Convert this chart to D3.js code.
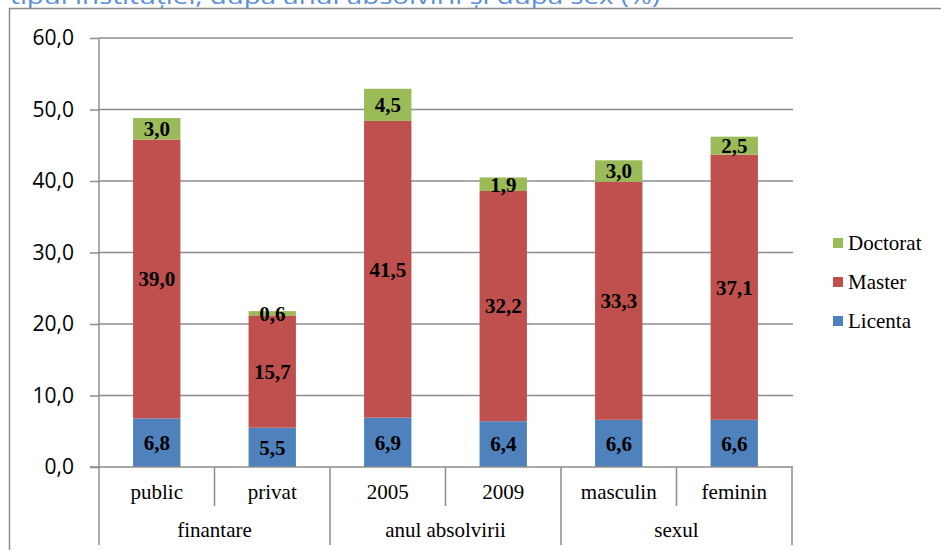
<!DOCTYPE html>
<html lang="ro">
<head>
<meta charset="UTF-8">
<title>Stacked bars</title>
<script src="https://cdnjs.cloudflare.com/ajax/libs/d3/7.8.5/d3.min.js"></script>
<style>
  body { margin: 0; background: #fff; }
  svg { display: block; }
</style>
</head>
<body>
<div id="chart"></div>
<script>
// data
var categories = ["public", "privat", "2005", "2009", "masculin", "feminin"];
var groups = [
  { name: "finantare", from: 0, to: 1 },
  { name: "anul absolvirii", from: 2, to: 3 },
  { name: "sexul", from: 4, to: 5 }
];
var licenta  = [6.8, 5.5, 6.9, 6.4, 6.6, 6.6];
var master   = [39.0, 15.7, 41.5, 32.2, 33.3, 37.1];
var doctorat = [3.0, 0.6, 4.5, 1.9, 3.0, 2.5];
var seriesNames = ["Licenta", "Master", "Doctorat"];
var yTicks = [0, 10, 20, 30, 40, 50, 60];

var colors = { Licenta: "#4F81BD", Master: "#C0504D", Doctorat: "#9BBB59" };
var fmt = function(v) { return d3.format(".1f")(v).replace(".", ","); };

var width = 941, height = 550;
// plot box (window.top is reserved, so no bare "top")
var pLeft = 99, pRight = 792, pTop = 38, pBottom = 467;
var gridColor = "#8c8c8c";
var serif = "Liberation Serif, serif";

var svg = d3.select("#chart").append("svg")
  .attr("width", width)
  .attr("height", height);

// title, mostly cut off at the top
svg.append("text")
  .attr("x", 10).attr("y", 4)
  .attr("font-family", "Open Sans, sans-serif")
  .attr("font-size", 22)
  .attr("fill", "#5B8FD8")
  .attr("textLength", 650)
  .attr("lengthAdjust", "spacingAndGlyphs")
  .text("tipul instituției, după anul absolvirii și după sex (%)");

// outer frame
svg.append("path")
  .attr("d", "M9.5," + height + "V8.5H" + width)
  .attr("fill", "none")
  .attr("stroke", gridColor)
  .attr("stroke-width", 1.5);

var table = categories.map(function(c, i) {
  return { cat: c, Licenta: licenta[i], Master: master[i], Doctorat: doctorat[i] };
});
var stacked = d3.stack().keys(seriesNames)(table);

var x = d3.scaleBand().domain(categories).range([pLeft, pRight]).paddingInner(0.59).paddingOuter(0.295);
var xc = d3.scaleBand().domain(categories).range([pLeft, pRight]);
var y = d3.scaleLinear().domain([0, 60]).range([pBottom, pTop]);

// gridlines
svg.append("g").selectAll("line")
  .data(yTicks.filter(function(t) { return t > 0; }))
  .enter().append("line")
  .attr("x1", pLeft).attr("x2", pRight + 1)
  .attr("y1", function(d) { return y(d); })
  .attr("y2", function(d) { return y(d); })
  .attr("stroke", gridColor).attr("stroke-width", 1.5);

// y axis
var yAxis = d3.axisLeft(y).tickValues(yTicks).tickSize(9).tickFormat(fmt);
var gy = svg.append("g").attr("transform", "translate(" + pLeft + ",0)").call(yAxis);
gy.select(".domain").remove();
gy.selectAll(".tick line").attr("stroke", gridColor).attr("stroke-width", 1.5);
gy.selectAll(".tick text")
  .attr("x", -25)
  .attr("font-family", "Open Sans, sans-serif")
  .attr("font-size", 21)
  .attr("fill", "#000");

// bars
var layers = svg.append("g").selectAll("g")
  .data(stacked).enter().append("g")
  .attr("fill", function(d) { return colors[d.key]; });

layers.selectAll("rect")
  .data(function(d) { return d; })
  .enter().append("rect")
  .attr("x", function(d) { return x(d.data.cat); })
  .attr("width", x.bandwidth())
  .attr("y", function(d) { return y(d[1]); })
  .attr("height", function(d) { return y(d[0]) - y(d[1]); });

// value labels
stacked.forEach(function(s) {
  svg.append("g").selectAll("text")
    .data(s).enter().append("text")
    .attr("x", function(d) { return x(d.data.cat) + x.bandwidth() / 2; })
    .attr("y", function(d) { return (y(d[0]) + y(d[1])) / 2; })
    .attr("dy", "0.35em")
    .attr("text-anchor", "middle")
    .attr("font-family", serif)
    .attr("font-weight", "bold")
    .attr("font-size", 21)
    .attr("fill", "#000")
    .text(function(d) { return fmt(d.data[s.key]); });
});

// axis lines
svg.append("line")
  .attr("x1", pLeft).attr("x2", pLeft).attr("y1", pTop).attr("y2", 545)
  .attr("stroke", gridColor).attr("stroke-width", 1.5);
svg.append("line")
  .attr("x1", pLeft - 9).attr("x2", pRight + 1).attr("y1", pBottom).attr("y2", pBottom)
  .attr("stroke", gridColor).attr("stroke-width", 1.5);

// category separators
var seps = d3.range(1, categories.length);
svg.append("g").selectAll("line")
  .data(seps).enter().append("line")
  .attr("x1", function(i) { return xc(categories[i]); })
  .attr("x2", function(i) { return xc(categories[i]); })
  .attr("y1", pBottom)
  .attr("y2", function(i) { return i % 2 === 0 ? 545 : 506; })
  .attr("stroke", gridColor).attr("stroke-width", 1.5);
svg.append("line")
  .attr("x1", pRight).attr("x2", pRight).attr("y1", pBottom).attr("y2", 545)
  .attr("stroke", gridColor).attr("stroke-width", 1.5);

svg.append("g").selectAll("text")
  .data(categories).enter().append("text")
  .attr("x", function(d) { return xc(d) + xc.bandwidth() / 2; })
  .attr("y", 499)
  .attr("text-anchor", "middle")
  .attr("font-family", serif)
  .attr("font-size", 21)
  .attr("fill", "#000")
  .text(function(d) { return d; });

svg.append("g").selectAll("text")
  .data(groups).enter().append("text")
  .attr("x", function(g) { return (xc(categories[g.from]) + xc(categories[g.to]) + xc.bandwidth()) / 2; })
  .attr("y", 537)
  .attr("text-anchor", "middle")
  .attr("font-family", serif)
  .attr("font-size", 21)
  .attr("fill", "#000")
  .text(function(g) { return g.name; });

// legend
var legendOrder = ["Doctorat", "Master", "Licenta"];
var lg = svg.append("g").selectAll("g")
  .data(legendOrder).enter().append("g")
  .attr("transform", function(d, i) { return "translate(833," + (243 + i * 39) + ")"; });
lg.append("rect")
  .attr("x", 0).attr("y", -5).attr("width", 10).attr("height", 10)
  .attr("fill", function(d) { return colors[d]; });
lg.append("text")
  .attr("x", 15).attr("dy", "0.35em")
  .attr("font-family", serif)
  .attr("font-size", 21)
  .attr("fill", "#000")
  .text(function(d) { return d; });
</script>
</body>
</html>
